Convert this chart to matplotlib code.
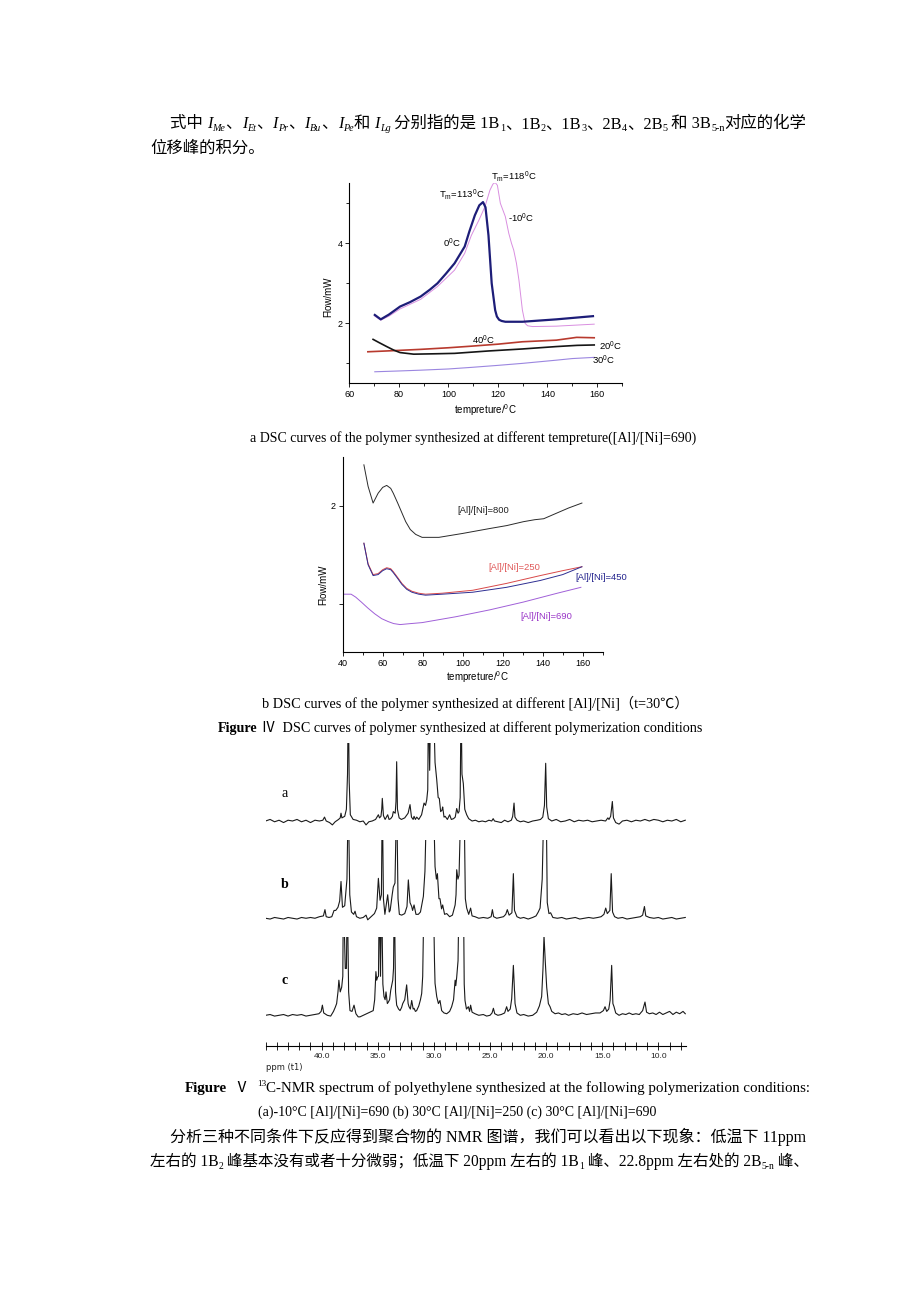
import numpy as np
import matplotlib
matplotlib.use('Agg')  # no display
import matplotlib.pyplot as plt
from matplotlib.ticker import MultipleLocator, FormatStrFormatter

W, H = 920, 1302
SERIF = ['Liberation Serif', 'Noto Sans CJK SC']
SANS = ['Liberation Sans', 'DejaVu Sans']

plt.rcParams['font.family'] = SANS
plt.rcParams['mathtext.fontset'] = 'custom'
plt.rcParams['mathtext.rm'] = 'Liberation Sans'
plt.rcParams['mathtext.it'] = 'Liberation Sans:italic'

# ---- DSC (a): different temperature, [Al]/[Ni]=690 ----
m0_T = [70.3, 72.7, 76.0, 80.5, 84.5, 88.8, 92.5, 95.6, 99.0, 102.5, 106.6, 108.5, 110.7, 112.5,
        114.0, 115.0, 116.2, 117.5, 118.9, 119.6, 120.5, 121.5, 123.0, 129.9, 143.6, 158.4]
m0_v = [2.21, 2.10, 2.22, 2.42, 2.53, 2.67, 2.84, 3.00, 3.24, 3.50, 3.92, 4.30, 4.70, 4.95,
        5.03, 4.90, 4.20, 3.00, 2.33, 2.17, 2.09, 2.06, 2.04, 2.04, 2.10, 2.18]
m10_T = [70.3, 72.7, 76.0, 80.5, 88.8, 95.6, 102.5, 106.6, 109.3, 112.5, 114.8, 116.8, 118.0,
         118.9, 119.8, 121.0, 123.0, 124.4, 125.5, 126.4, 127.5, 128.5, 129.9, 131.0, 132.0,
         134.0, 143.6, 158.9]
m10_v = [2.18, 2.08, 2.18, 2.36, 2.60, 2.92, 3.33, 3.75, 4.20, 4.60, 4.92, 5.33, 5.48,
         5.52, 5.45, 5.00, 4.67, 4.25, 4.00, 3.83, 3.50, 3.08, 2.33, 2.00, 1.94,
         1.92, 1.93, 1.98]
p40_T = [67.5, 75.0, 88.8, 100.0, 109.3, 120.0, 129.9, 143.6, 151.8, 158.9]
p40_v = [1.29, 1.31, 1.35, 1.39, 1.43, 1.48, 1.54, 1.58, 1.65, 1.64]
p20_T = [69.6, 72.0, 75.1, 78.0, 80.5, 86.0, 95.0, 102.5, 116.2, 129.9, 143.6, 152.0, 158.9]
p20_v = [1.60, 1.52, 1.42, 1.33, 1.27, 1.23, 1.24, 1.25, 1.31, 1.36, 1.42, 1.45, 1.46]
p30_T = [70.3, 80.0, 88.8, 100.0, 109.3, 120.0, 129.9, 143.6, 150.0, 158.9]
p30_v = [0.79, 0.81, 0.83, 0.86, 0.90, 0.95, 1.00, 1.08, 1.12, 1.15]

# ---- DSC (b): different [Al]/[Ni], t=30 C ----
r800_T = [50.6, 52.7, 55.2, 57.7, 60.0, 62.0, 64.0, 65.3, 67.5, 69.6, 71.5, 73.8, 76.5, 79.7,
          88.1, 100.0, 113.5, 122.0, 130.4, 136.0, 140.5, 147.3, 153.0, 159.6]
r800_v = [2.42, 2.20, 2.03, 2.13, 2.19, 2.21, 2.18, 2.13, 2.03, 1.93, 1.84, 1.76, 1.71, 1.68,
          1.68, 1.72, 1.77, 1.80, 1.84, 1.86, 1.87, 1.93, 1.98, 2.03]
r250_T = [50.6, 52.7, 55.2, 57.7, 60.0, 62.0, 64.0, 65.3, 67.5, 69.6, 72.0, 74.6, 78.0, 81.4,
          89.8, 105.0, 121.9, 138.8, 150.0, 159.6]
r250_v = [1.62, 1.41, 1.30, 1.31, 1.35, 1.37, 1.36, 1.33, 1.27, 1.21, 1.16, 1.13, 1.11, 1.10,
          1.11, 1.14, 1.21, 1.29, 1.34, 1.38]
r450_v = [1.62, 1.40, 1.29, 1.30, 1.34, 1.36, 1.35, 1.32, 1.26, 1.20, 1.15, 1.12, 1.10, 1.09,
          1.10, 1.12, 1.17, 1.24, 1.30, 1.38]
r690_T = [40.8, 44.2, 46.5, 49.3, 52.5, 56.0, 59.5, 62.8, 65.5, 68.7, 74.0, 79.7, 96.6, 113.5,
          130.4, 147.3, 159.1]
r690_v = [1.10, 1.10, 1.07, 1.02, 0.96, 0.90, 0.85, 0.82, 0.80, 0.79, 0.80, 0.81, 0.87, 0.94,
          1.02, 1.11, 1.17]

# ---- 13C-NMR traces (ppm, intensity; 1.0 = top of the clipped window) ----
nmr_a = [(45.0, 0.00), (44.6, 0.02), (44.2, -0.01), (43.8, 0.01), (43.4, -0.02), (43.0, 0.01),
         (42.6, 0.00), (42.2, 0.02), (41.8, -0.01), (41.4, 0.01), (41.0, -0.02), (40.6, 0.01),
         (40.2, 0.00), (39.9, 0.01), (39.75, 0.05), (39.6, 0.00), (39.3, -0.02), (39.05, -0.05),
         (38.8, -0.01), (38.5, 0.02), (38.35, 0.04), (38.28, 0.10), (38.2, 0.04), (37.95, 0.06),
         (37.8, 0.15), (37.7, 0.6), (37.63, 1.6), (37.55, 0.5), (37.45, 0.08), (37.2, 0.02),
         (36.9, 0.01), (36.6, -0.01), (36.3, 0.00), (36.05, -0.05), (35.8, -0.01), (35.5, 0.00),
         (35.2, 0.02), (34.95, 0.08), (34.85, 0.04), (34.72, 0.06), (34.65, 0.15), (34.6, 0.29),
         (34.5, 0.07), (34.35, 0.02), (34.12, 0.08), (34.0, 0.02), (33.85, 0.03), (33.7, 0.06),
         (33.62, 0.12), (33.45, 0.10), (33.38, 0.25), (33.32, 0.76), (33.25, 0.15), (33.1, 0.04),
         (32.9, 0.02), (32.6, 0.04), (32.3, 0.10), (32.13, 0.21), (32.0, 0.05), (31.85, 0.02),
         (31.77, 0.06), (31.65, 0.02), (31.53, 0.05), (31.35, 0.02), (31.1, 0.08), (30.88, 0.23),
         (30.75, 0.20), (30.64, 0.27), (30.55, 0.40), (30.49, 1.6), (30.38, 0.65), (30.28, 1.6),
         (30.05, 1.6), (29.9, 0.75), (29.75, 0.53), (29.62, 0.30), (29.52, 0.29), (29.4, 0.12),
         (29.28, 0.14), (29.22, 0.18), (29.1, 0.05), (29.0, 0.06), (28.8, 0.02), (28.6, 0.08),
         (28.45, 0.02), (28.25, 0.03), (28.1, 0.05), (27.97, 0.16), (27.85, 0.10), (27.76, 0.12),
         (27.66, 0.30), (27.58, 1.6), (27.5, 0.6), (27.45, 0.55), (27.38, 0.48), (27.25, 0.15),
         (27.08, 0.08), (26.9, 0.03), (26.6, 0.00), (26.3, 0.01), (26.0, -0.01), (25.7, 0.00),
         (25.4, -0.01), (25.1, 0.01), (24.85, 0.00), (24.72, 0.03), (24.6, 0.00), (24.3, -0.01),
         (24.0, -0.02), (23.7, 0.01), (23.4, -0.01), (23.1, 0.01), (22.98, 0.06), (22.86, 0.23),
         (22.78, 0.05), (22.6, 0.01), (22.3, -0.01), (22.0, 0.00), (21.6, -0.02), (21.2, 0.00),
         (20.8, 0.01), (20.5, 0.02), (20.3, 0.05), (20.15, 0.20), (20.04, 0.74), (19.95, 0.18),
         (19.8, 0.03), (19.5, 0.00), (19.1, 0.02), (18.7, -0.01), (18.3, 0.00), (17.9, 0.02),
         (17.5, -0.01), (17.1, 0.01), (16.7, 0.00), (16.3, 0.01), (15.9, -0.01), (15.5, 0.00),
         (15.1, 0.01), (14.7, 0.00), (14.5, 0.04), (14.4, 0.02), (14.25, 0.06), (14.1, 0.25),
         (14.0, 0.04), (13.8, -0.02), (13.5, -0.04), (13.2, 0.00), (12.8, 0.01), (12.4, -0.01),
         (12.0, 0.01), (11.6, 0.00), (11.2, 0.02), (10.8, 0.00), (10.4, 0.02), (10.0, 0.01),
         (9.6, -0.01), (9.2, 0.01), (8.8, 0.00), (8.4, 0.02), (8.0, -0.01), (7.6, 0.01)]

nmr_b = [(45.0, 0.00), (44.6, -0.01), (44.2, 0.01), (43.8, 0.00), (43.4, -0.01), (43.0, 0.01),
         (42.6, 0.00), (42.2, -0.01), (41.8, 0.01), (41.4, 0.00), (41.0, 0.01), (40.6, 0.00),
         (40.2, 0.02), (39.85, 0.03), (39.71, 0.11), (39.6, 0.02), (39.35, 0.01), (39.1, 0.02),
         (38.9, 0.10), (38.75, 0.10), (38.55, 0.14), (38.4, 0.22), (38.28, 0.47), (38.15, 0.14),
         (37.95, 0.16), (37.75, 0.5), (37.63, 1.6), (37.5, 0.3), (37.35, 0.08), (37.15, 0.05),
         (37.03, 0.09), (36.9, 0.02), (36.6, 0.00), (36.3, 0.01), (36.05, 0.04), (35.9, -0.02),
         (35.6, 0.02), (35.3, 0.06), (35.1, 0.13), (34.95, 0.51), (34.8, 0.23), (34.68, 0.3),
         (34.6, 1.6), (34.5, 0.25), (34.37, 0.05), (34.12, 0.30), (33.98, 0.08), (33.9, 0.10),
         (33.72, 0.30), (33.62, 0.40), (33.47, 0.45), (33.32, 1.6), (33.2, 0.25), (33.08, 0.05),
         (32.87, 0.04), (32.6, 0.06), (32.4, 0.15), (32.28, 0.49), (32.13, 0.20), (31.98, 0.15),
         (31.9, 0.10), (31.77, 0.17), (31.6, 0.05), (31.39, 0.05), (31.2, 0.08), (31.05, 0.20),
         (30.94, 0.28), (30.8, 0.6), (30.64, 1.6), (30.05, 1.6), (29.9, 0.66), (29.78, 0.50),
         (29.69, 0.57), (29.55, 0.25), (29.46, 0.25), (29.32, 0.12), (29.22, 0.17), (29.05, 0.05),
         (28.86, 0.06), (28.6, 0.02), (28.35, 0.04), (28.11, 0.17), (28.03, 0.3), (27.97, 0.62),
         (27.86, 0.50), (27.76, 0.55), (27.58, 1.6), (27.32, 1.6), (27.2, 0.25), (27.08, 0.13),
         (26.9, 0.05), (26.73, 0.13), (26.6, 0.03), (26.34, 0.02), (26.0, 0.00), (25.6, 0.01),
         (25.2, 0.00), (24.9, 0.02), (24.79, 0.11), (24.68, 0.02), (24.4, 0.00), (24.1, 0.01),
         (23.8, 0.02), (23.6, 0.05), (23.46, 0.11), (23.3, 0.04), (23.05, 0.07), (22.92, 0.57),
         (22.82, 0.10), (22.6, 0.02), (22.3, 0.00), (22.0, 0.01), (21.6, -0.01), (21.2, 0.01),
         (20.9, 0.03), (20.7, 0.08), (20.54, 0.13), (20.35, 0.5), (20.18, 1.6), (20.0, 1.6),
         (19.9, 0.2), (19.75, 0.06), (19.6, 0.07), (19.4, 0.01), (19.0, 0.00), (18.6, 0.01),
         (18.2, -0.01), (17.8, 0.00), (17.4, 0.01), (17.0, -0.01), (16.6, 0.00), (16.2, 0.01),
         (15.8, 0.00), (15.4, 0.01), (15.1, 0.02), (14.85, 0.05), (14.69, 0.13), (14.55, 0.06),
         (14.32, 0.10), (14.2, 0.57), (14.08, 0.08), (13.9, 0.02), (13.6, 0.00), (13.2, 0.01),
         (12.8, -0.01), (12.4, 0.00), (12.0, 0.01), (11.6, 0.02), (11.4, 0.04), (11.24, 0.15),
         (11.12, 0.03), (10.8, 0.01), (10.4, 0.00), (10.0, 0.01), (9.6, -0.01), (9.2, 0.00),
         (8.8, 0.01), (8.4, -0.01), (8.0, 0.00), (7.6, 0.01)]

nmr_c = [(45.0, 0.00), (44.6, 0.01), (44.2, -0.01), (43.8, 0.00), (43.4, 0.01), (43.0, -0.01),
         (42.6, 0.01), (42.2, 0.00), (41.8, 0.01), (41.4, -0.01), (41.0, 0.00), (40.6, 0.01),
         (40.25, 0.02), (40.05, 0.05), (39.94, 0.13), (39.82, 0.03), (39.5, 0.00), (39.2, -0.01),
         (38.95, 0.05), (38.8, 0.10), (38.67, 0.15), (38.55, 0.30), (38.47, 0.45), (38.35, 0.30),
         (38.22, 0.36), (38.12, 0.5), (38.07, 1.6), (37.9, 0.6), (37.8, 0.6), (37.72, 1.6),
         (37.6, 0.3), (37.48, 0.06), (37.3, 0.05), (37.12, 0.13), (36.95, 0.02), (36.75, -0.02),
         (36.59, -0.02), (36.3, 0.00), (36.0, 0.02), (35.7, 0.04), (35.41, 0.06), (35.28, 0.2),
         (35.17, 0.56), (35.1, 0.45), (35.02, 0.49), (34.94, 0.5), (34.87, 1.6), (34.76, 0.5),
         (34.66, 1.6), (34.55, 0.4), (34.45, 0.24), (34.35, 0.20), (34.27, 0.30), (34.15, 0.15),
         (34.06, 0.17), (33.95, 0.20), (33.85, 0.32), (33.67, 0.45), (33.6, 0.6), (33.53, 1.6),
         (33.42, 0.3), (33.32, 0.13), (33.15, 0.08), (33.02, 0.06), (32.88, 0.10), (32.78, 0.15),
         (32.6, 0.20), (32.43, 0.39), (32.3, 0.15), (32.22, 0.11), (32.1, 0.08), (31.98, 0.19),
         (31.85, 0.08), (31.77, 0.09), (31.65, 0.05), (31.54, 0.06), (31.35, 0.12), (31.2, 0.2),
         (31.09, 0.28), (31.0, 0.5), (30.88, 1.6), (30.05, 1.6), (29.95, 0.7), (29.9, 0.41),
         (29.8, 0.30), (29.75, 0.24), (29.6, 0.15), (29.46, 0.19), (29.31, 0.06), (29.1, 0.03),
         (28.86, 0.02), (28.6, 0.05), (28.42, 0.11), (28.25, 0.20), (28.11, 0.45), (28.05, 0.38),
         (27.97, 0.49), (27.85, 0.7), (27.76, 1.6), (27.37, 1.6), (27.3, 0.4), (27.23, 0.19),
         (27.1, 0.08), (26.93, 0.11), (26.82, 0.05), (26.73, 0.13), (26.6, 0.04), (26.34, 0.02),
         (26.0, 0.00), (25.6, 0.01), (25.3, -0.01), (25.0, 0.00), (24.82, 0.03), (24.7, 0.09),
         (24.58, 0.02), (24.3, 0.00), (24.0, 0.01), (23.7, 0.03), (23.52, 0.11), (23.4, 0.05),
         (23.2, 0.08), (23.07, 0.21), (22.92, 0.64), (22.77, 0.15), (22.6, 0.03), (22.3, 0.00),
         (22.0, 0.01), (21.6, -0.01), (21.2, 0.00), (20.84, 0.04), (20.6, 0.12), (20.4, 0.24),
         (20.28, 0.6), (20.19, 1.02), (20.08, 0.7), (19.95, 0.36), (19.8, 0.15), (19.65, 0.11),
         (19.5, 0.05), (19.2, 0.02), (18.9, 0.03), (18.6, 0.01), (18.3, 0.02), (18.0, 0.00),
         (17.6, 0.02), (17.2, 0.01), (16.8, 0.03), (16.4, 0.01), (16.0, 0.02), (15.6, 0.03),
         (15.2, 0.03), (14.9, 0.06), (14.75, 0.11), (14.6, 0.05), (14.42, 0.08), (14.3, 0.19),
         (14.16, 0.64), (14.05, 0.15), (13.95, 0.11), (13.8, 0.03), (13.5, 0.00), (13.2, 0.02),
         (12.9, 0.01), (12.6, 0.03), (12.3, 0.01), (12.0, 0.02), (11.7, 0.01), (11.4, 0.06),
         (11.19, 0.17), (11.05, 0.04), (10.8, 0.02), (10.5, 0.03), (10.2, 0.01), (9.9, 0.04),
         (9.6, 0.01), (9.3, 0.03), (9.0, 0.05), (8.7, 0.01), (8.4, 0.04), (8.1, 0.02), (7.8, 0.05),
         (7.6, 0.02)]
nmr_ticks = [40, 35, 30, 25, 20, 15, 10]

fig = plt.figure(figsize=(W / 100, H / 100), dpi=100)
fig.patch.set_facecolor('white')
R = fig.canvas.get_renderer()


def run_props(st, size):
    kw = dict(family=SERIF, fontsize=size)
    dy = 0.0
    if 'i' in st:
        kw['style'] = 'italic'
    if 'b' in st:
        kw['weight'] = 'bold'
    if '_' in st:
        kw['fontsize'] = size * 0.62
        dy = 0.20 * size * 100 / 72
    if '^' in st:
        kw['fontsize'] = size * 0.62
        dy = -0.40 * size * 100 / 72
    return kw, dy


def advance(s, kw):
    a = fig.text(0, 0, s + '|', **kw)
    b = fig.text(0, 0, '|', **kw)
    w = a.get_window_extent(R).width - b.get_window_extent(R).width
    a.remove()
    b.remove()
    return w


def runs(x0, y, parts, size, x1=None):
    # lay text pieces left to right; y is the baseline in pixels from the top
    if x1 is not None:
        tot = sum(advance(s, run_props(st, size)[0]) for s, st in parts)
        size = size * (x1 - x0) / tot
    x = x0
    for s, st in parts:
        kw, dy = run_props(st, size)
        fig.text(x / W, 1 - (y + dy) / H, s, va='baseline', ha='left', **kw)
        x += advance(s, kw)
    return size


def px_axes(left, top, right, bottom):
    return fig.add_axes([left / W, 1 - bottom / H, (right - left) / W, (bottom - top) / H])


def origin_style(ax):
    for s in ('top', 'right'):
        ax.spines[s].set_visible(False)
    for s in ('left', 'bottom'):
        ax.spines[s].set_linewidth(0.8)
    ax.tick_params(which='both', direction='out', width=0.6, labelsize=6.5, pad=2)
    ax.tick_params(which='major', length=3)
    ax.tick_params(which='minor', length=2)
    ax.patch.set_alpha(0)


# ---------- page text ----------
sz = runs(170, 128, [('式中 ', ''), ('I', 'i'), ('Me', 'i_'), ('、', ''), ('I', 'i'), ('Et', 'i_'),
                     ('、', ''), ('I', 'i'), ('Pr', 'i_'), ('、', ''), ('I', 'i'), ('Bu', 'i_'),
                     ('、', ''), ('I', 'i'), ('Pe', 'i_'), ('和 ', ''), ('I', 'i'), ('Lg', 'i_'),
                     (' 分别指的是 1B', ''), ('1', '_'), ('、1B', ''), ('2', '_'), ('、1B', ''),
                     ('3', '_'), ('、2B', ''), ('4', '_'), ('、2B', ''), ('5', '_'),
                     (' 和 3B', ''), ('5-n', '_'), ('对应的化学', '')], 11.5, x1=808)
runs(150, 153, [('位移峰的积分。', '')], sz)

runs(250, 442, [('a DSC curves of the polymer synthesized at different tempreture([Al]/[Ni]=690)', '')],
     10.5, x1=697)
runs(262, 708, [('b DSC curves of the polymer synthesized at different [Al]/[Ni]（t=30℃）', '')],
     10.5, x1=688)
runs(218, 732, [('Figure', 'b'), (' Ⅳ  DSC curves of polymer synthesized at different '
                                  'polymerization conditions', '')], 10.5, x1=702)
runs(185, 1092, [('Figure', 'b'), ('  Ⅴ  ', ''), ('13', '^'),
                 ('C-NMR spectrum of polyethylene synthesized at the following polymerization conditions:', '')],
     10.5, x1=808)
runs(258, 1116, [('(a)-10°C [Al]/[Ni]=690 (b) 30°C [Al]/[Ni]=250 (c) 30°C [Al]/[Ni]=690', '')],
     10.5, x1=657)
sz2 = runs(170, 1142, [('分析三种不同条件下反应得到聚合物的 NMR 图谱，我们可以看出以下现象：低温下 11ppm', '')],
           11.5, x1=808)
runs(150, 1166, [('左右的 1B', ''), ('2', '_'), (' 峰基本没有或者十分微弱；低温下 20ppm 左右的 1B', ''),
                 ('1', '_'), (' 峰、22.8ppm 左右处的 2B', ''), ('5-n', '_'), (' 峰、', '')], sz2, x1=808)

# ---------- DSC a ----------
axa = px_axes(349.3, 183.3, 621.7, 382.7)
origin_style(axa)
axa.plot(p30_T, p30_v, color='#9b86e0', lw=0.8)
axa.plot(p40_T, p40_v, color='#b83a2e', lw=1.2)
axa.plot(p20_T, p20_v, color='#151515', lw=1.2)
axa.plot(m10_T, m10_v, color='#d98ee0', lw=0.7)
axa.plot(m0_T, m0_v, color='#1d1d78', lw=1.6)
axa.set_xlim(60, 170)
axa.set_ylim(0.517, 5.5)
axa.xaxis.set_major_locator(MultipleLocator(20))
axa.xaxis.set_minor_locator(MultipleLocator(10))
axa.set_yticks([2, 4])
axa.yaxis.set_minor_locator(MultipleLocator(1))
ann = dict(fontsize=6.8, ha='center', va='center', clip_on=False)
axa.text(126.4, 5.67, r'T$_\mathrm{m}$=118$^\mathrm{0}$C', **ann)
axa.text(105.5, 5.21, r'T$_\mathrm{m}$=113$^\mathrm{0}$C', **ann)
axa.text(129.2, 4.62, r'-10$^\mathrm{0}$C', **ann)
axa.text(101.4, 4.00, r'0$^\mathrm{0}$C', **ann)
axa.text(114.1, 1.58, r'40$^\mathrm{0}$C', **ann)
axa.text(165.5, 1.42, r'20$^\mathrm{0}$C', **ann)
axa.text(162.5, 1.07, r'30$^\mathrm{0}$C', **ann)
fig.text(328 / W, 1 - 297 / H, 'Flow/mW', rotation=90, fontsize=7, ha='center', va='center')
fig.text(485 / W, 1 - 410 / H, r'tempreture/$^\mathrm{0}$C', fontsize=7, ha='center', va='center')

# ---------- DSC b ----------
axb = px_axes(342.7, 456.7, 602.7, 652.3)
origin_style(axb)
axb.plot(r800_T, r800_v, color='#2a2a2a', lw=0.7)
axb.plot(r690_T, r690_v, color='#a060d8', lw=0.7)
axb.plot(r250_T, r250_v, color='#d84848', lw=0.7)
axb.plot(r250_T, r450_v, color='#2e2e92', lw=0.7)
axb.set_xlim(40, 170)
axb.set_ylim(0.507, 2.503)
axb.xaxis.set_major_locator(MultipleLocator(20))
axb.xaxis.set_minor_locator(MultipleLocator(10))
axb.set_yticks([1, 2])
axb.set_yticklabels(['', '2'])
annb = dict(fontsize=6.8, ha='center', va='center', clip_on=False)
axb.text(110.1, 1.95, '[Al]/[Ni]=800', color='#222222', **annb)
axb.text(125.6, 1.37, '[Al]/[Ni]=250', color='#e05a5a', **annb)
axb.text(169.4, 1.27, '[Al]/[Ni]=450', color='#24248e', **annb)
axb.text(141.7, 0.87, '[Al]/[Ni]=690', color='#9a36c8', **annb)
fig.text(323 / W, 1 - 585 / H, 'Flow/mW', rotation=90, fontsize=7, ha='center', va='center')
fig.text(477 / W, 1 - 677 / H, r'tempreture/$^\mathrm{0}$C', fontsize=7, ha='center', va='center')

# ---------- 13C NMR ----------
for tr, top, bot, lab, ly, wt in [(nmr_a, 743, 832.7, 'a', 797, 'normal'),
                                  (nmr_b, 840, 930, 'b', 888, 'bold'),
                                  (nmr_c, 937.3, 1027, 'c', 984, 'bold')]:
    ax = px_axes(265.6, top, 686.4, bot)
    ppm, val = np.array(tr).T
    ax.plot(ppm, val, color='#1a1a1a', lw=0.8)
    ax.set_xlim(45, 7.5)
    ax.set_ylim(-0.15, 1.0)
    ax.axis('off')
    fig.text(285 / W, 1 - ly / H, lab, family=SERIF, fontsize=10, weight=wt,
             ha='center', va='baseline')

axs = px_axes(265.6, 1045, 686.4, 1045.7)
for s in ('top', 'left', 'right'):
    axs.spines[s].set_visible(False)
axs.spines['bottom'].set_linewidth(0.8)
axs.set_xlim(45, 7.5)
axs.set_yticks([])
axs.set_xticks(nmr_ticks)
axs.xaxis.set_minor_locator(MultipleLocator(1))
axs.xaxis.set_major_formatter(FormatStrFormatter('%.1f'))
axs.tick_params(which='both', direction='inout', length=6, width=0.7, labelsize=6,
                pad=2, colors='#222222')
axs.patch.set_alpha(0)
fig.text(266 / W, 1 - 1067 / H, 'ppm (t1)', fontsize=6, color='#222222', ha='left', va='center',
         family=['DejaVu Sans'])

fig.savefig('out.png', dpi=100, facecolor='white')
